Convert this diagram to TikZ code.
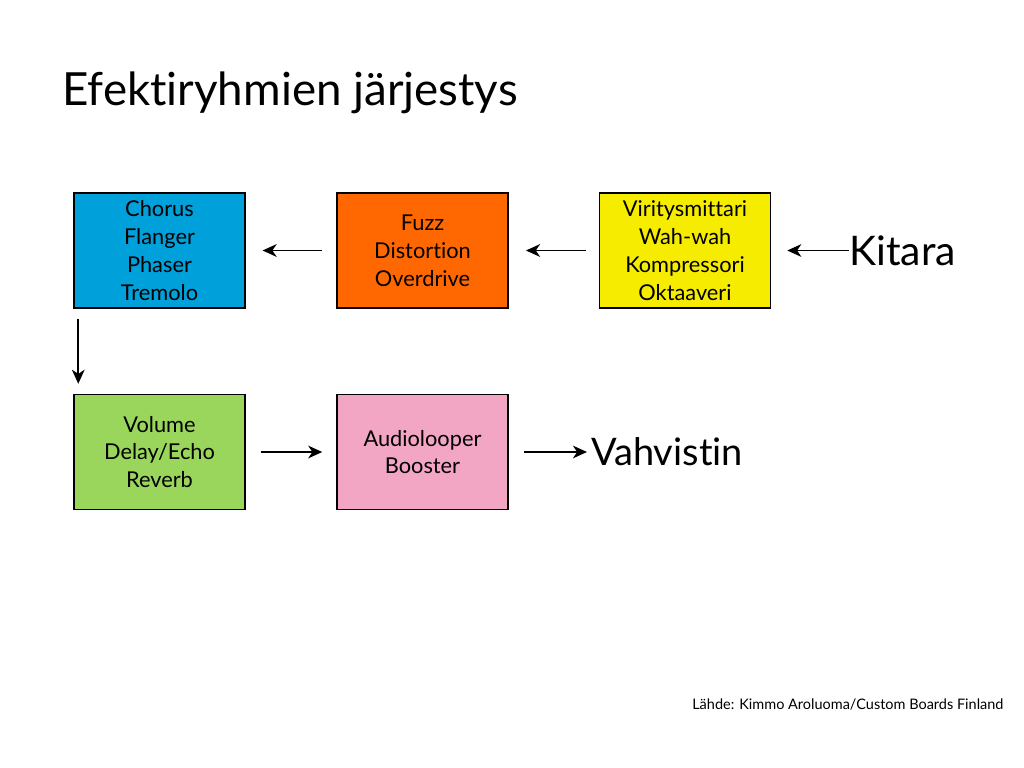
\documentclass[tikz,border=0pt]{standalone}
\usepackage{fontspec}
\setmainfont{Lato}[Ligatures=NoCommon,Contextuals=NoAlternate]
\usetikzlibrary{arrows.meta}

\begin{document}
\begin{tikzpicture}[x=0.025cm,y=-0.025cm,
    box/.style={draw=black,line width=1pt,minimum width=4.275cm,minimum height=2.875cm,
      align=center,font=\fontsize{15.5}{19.8}\selectfont,inner sep=0pt},
    arr/.style={-{Stealth[length=10pt,width=9pt,inset=3pt]},line width=1.4pt}]

  \definecolor{chorusblue}{RGB}{0,160,218}
  \definecolor{fuzzorange}{RGB}{255,104,0}
  \definecolor{tuneyellow}{RGB}{246,236,0}
  \definecolor{volgreen}{RGB}{154,214,92}
  \definecolor{looppink}{RGB}{242,166,196}
  \useasboundingbox[fill=white] (0,0) rectangle (1024,768);

  \node[anchor=base west,font=\fontsize{32.5}{38}\selectfont,inner sep=0pt] (title) at (62,106) {Efektiryhmien järjestys};

  \node[box,fill=chorusblue] (chorus) at (159.5,250.5) {Chorus\\Flanger\\Phaser\\Tremolo};
  \node[box,fill=fuzzorange] (fuzz) at (422.5,250.5) {Fuzz\\Distortion\\Overdrive};
  \node[box,fill=tuneyellow] (tuner) at (685,250.5) {Viritysmittari\\Wah-wah\\Kompressori\\Oktaaveri};
  \node[box,fill=volgreen] (volume) at (159.5,452) {Volume\\Delay/Echo\\Reverb};
  \node[box,fill=looppink] (looper) at (422.5,452) {Audiolooper\\Booster};

  \node[anchor=west,font=\fontsize{29}{34}\selectfont,inner sep=0pt] (guitar) at (849,250.5) {Kitara};
  \node[anchor=west,font=\fontsize{27}{32}\selectfont,inner sep=0pt] (amp) at (591,452) {Vahvistin};

  \draw[arr] (guitar.west) -- ([xshift=0.4cm]tuner.east);
  \draw[arr] ([xshift=-0.33cm]tuner.west) -- ([xshift=0.43cm]fuzz.east);
  \draw[arr] ([xshift=-0.35cm]fuzz.west) -- ([xshift=0.42cm]chorus.east);
  \draw[arr] ([xshift=0.125cm,yshift=-0.25cm]chorus.south west) -- ([xshift=0.125cm,yshift=0.25cm]volume.north west);
  \draw[arr] ([xshift=0.38cm]volume.east) -- ([xshift=-0.35cm]looper.west);
  \draw[arr] ([xshift=0.38cm]looper.east) -- ([xshift=-0.1cm]amp.west);

  \node[anchor=base west,font=\fontsize{10.3}{12}\selectfont,inner sep=0pt] (source) at (692,709) {Lähde: Kimmo Aroluoma/Custom Boards Finland};
\end{tikzpicture}
\end{document}
